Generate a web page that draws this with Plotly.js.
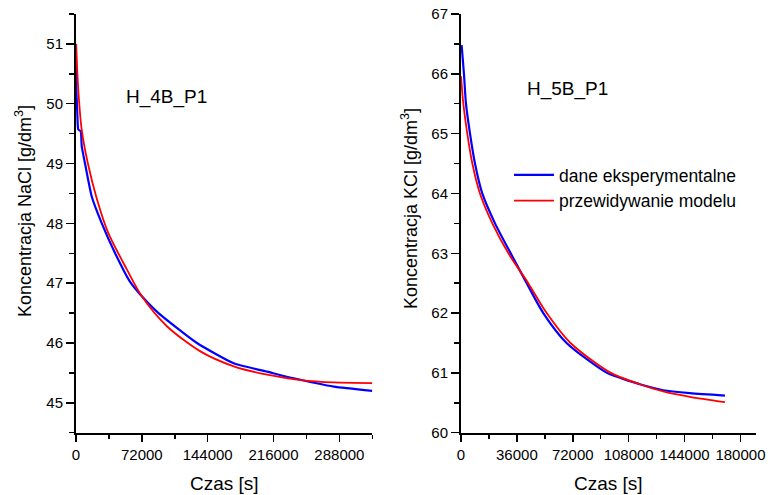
<!DOCTYPE html>
<html>
<head>
<meta charset="utf-8">
<script src="https://cdn.plot.ly/plotly-3.0.1.min.js"></script>
<style>html,body{margin:0;padding:0;background:#fff;}#chart{width:768px;height:495px;}</style>
</head>
<body>
<div id="chart"></div>
<script>
// Left panel: H_4B_P1 (NaCl)
const tNaClExp = [0, 330, 1430, 2520, 5150, 6250, 9870, 17200, 28200, 42800, 59200, 72000, 90200, 132300, 172500, 209100, 238000, 282000, 324000];
const cNaClExp = [51.0, 50.28, 49.84, 49.57, 49.54, 49.29, 49.0, 48.45, 48.0, 47.5, 47.02, 46.78, 46.5, 46.0, 45.66, 45.52, 45.41, 45.27, 45.20];
const tNaClMod = [0, 2500, 6200, 13000, 23000, 35000, 55600, 72000, 99400, 136000, 172500, 209000, 245600, 282000, 324000];
const cNaClMod = [51.0, 50.23, 49.57, 49.0, 48.4, 47.85, 47.23, 46.78, 46.28, 45.86, 45.61, 45.47, 45.38, 45.34, 45.33];

// Right panel: H_5B_P1 (KCl)
const tKClExp = [400, 1900, 3200, 5800, 9000, 13700, 21900, 33000, 42300, 53000, 68000, 94000, 104500, 115200, 130200, 147400, 170000];
const cKClExp = [66.48, 66.0, 65.5, 65.0, 64.5, 64.0, 63.5, 62.95, 62.5, 62.0, 61.5, 61.0, 60.9, 60.81, 60.71, 60.66, 60.62];
const tKClMod = [0, 1500, 4050, 7300, 12200, 20200, 30500, 43300, 55200, 70500, 96500, 115200, 130200, 147400, 170000];
const cKClMod = [65.96, 65.5, 65.0, 64.5, 64.0, 63.5, 63.0, 62.5, 62.0, 61.5, 61.0, 60.81, 60.69, 60.6, 60.51];

const seriesNames = ['dane eksperymentalne', 'przewidywanie modelu'];
const panelLabels = ['H_4B_P1', 'H_5B_P1'];
const yTitles = ['Koncentracja NaCl [g/dm<sup>3</sup>]', 'Koncentracja KCl [g/dm<sup>3</sup>]'];
const xTitle = 'Czas [s]';

const FONT = 'Liberation Sans, Arial, Helvetica, sans-serif';
const W = 768, H = 495;
const px = v => v / W;
const py = v => 1 - v / H;

const traces = [
  {x: tNaClExp, y: cNaClExp, xaxis: 'x', yaxis: 'y', mode: 'lines', name: seriesNames[0], showlegend: false,
   line: {color: '#0000ff', width: 2.2, shape: 'spline', smoothing: 0.5}},
  {x: tNaClMod, y: cNaClMod, xaxis: 'x', yaxis: 'y', mode: 'lines', name: seriesNames[1], showlegend: false,
   line: {color: '#ff0000', width: 1.8, shape: 'spline', smoothing: 0.8}},
  {x: tKClExp, y: cKClExp, xaxis: 'x2', yaxis: 'y2', mode: 'lines', name: seriesNames[0],
   line: {color: '#0000ff', width: 2.2, shape: 'spline', smoothing: 0.7}},
  {x: tKClMod, y: cKClMod, xaxis: 'x2', yaxis: 'y2', mode: 'lines', name: seriesNames[1],
   line: {color: '#ff0000', width: 1.8, shape: 'spline', smoothing: 0.8}}
];

function xAxis(domain, range, dtick, anchor) {
  return {domain: domain, range: range, anchor: anchor, tick0: 0, dtick: dtick, tickformat: 'd',
    showline: true, linecolor: '#000', linewidth: 2, ticks: 'outside', ticklen: 7, tickwidth: 1.5, tickcolor: '#000',
    minor: {dtick: dtick / 2, tick0: 0, ticks: 'outside', ticklen: 4, tickwidth: 1.5, tickcolor: '#000', showgrid: false},
    showgrid: false, zeroline: false, tickfont: {family: FONT, size: 15, color: '#000'}, fixedrange: true};
}
function yAxis(range, anchor) {
  return {domain: [62.3 / H, 481 / H], range: range, anchor: anchor, tick0: 0, dtick: 1,
    showline: true, linecolor: '#000', linewidth: 2, ticks: 'outside', ticklen: 8, tickwidth: 1.5, tickcolor: '#000',
    minor: {dtick: 0.5, ticks: 'outside', ticklen: 5, tickwidth: 1.5, tickcolor: '#000', showgrid: false},
    showgrid: false, zeroline: false, tickfont: {family: FONT, size: 15, color: '#000'}, fixedrange: true};
}

const layout = {
  width: W, height: H,
  margin: {l: 0, r: 0, t: 0, b: 0},
  paper_bgcolor: '#fff', plot_bgcolor: 'rgba(0,0,0,0)',
  font: {family: FONT, color: '#000'},
  xaxis: xAxis([px(76), px(372.3)], [0, 324000], 72000, 'y'),
  yaxis: yAxis([44.5, 51.5], 'x'),
  xaxis2: xAxis([px(461), px(756)], [0, 190000], 36000, 'y2'),
  yaxis2: yAxis([60, 67], 'x2'),
  showlegend: true,
  legend: {x: px(509), y: py(157), xanchor: 'left', yanchor: 'top', bgcolor: 'rgba(0,0,0,0)',
    borderwidth: 0, font: {family: FONT, size: 17.5, color: '#000'}, itemwidth: 40, tracegroupgap: 0},
  annotations: [
    {text: panelLabels[0], xref: 'paper', yref: 'paper', x: px(166.5), y: py(97), xanchor: 'center', yanchor: 'middle',
     showarrow: false, font: {family: FONT, size: 19, color: '#000'}},
    {text: panelLabels[1], xref: 'paper', yref: 'paper', x: px(567.5), y: py(89), xanchor: 'center', yanchor: 'middle',
     showarrow: false, font: {family: FONT, size: 19, color: '#000'}},
    {text: xTitle, xref: 'paper', yref: 'paper', x: px(224), y: py(483), xanchor: 'center', yanchor: 'middle',
     showarrow: false, font: {family: FONT, size: 19, color: '#000'}},
    {text: xTitle, xref: 'paper', yref: 'paper', x: px(608.5), y: py(483), xanchor: 'center', yanchor: 'middle',
     showarrow: false, font: {family: FONT, size: 19, color: '#000'}},
    {text: yTitles[0], xref: 'paper', yref: 'paper', x: px(23), y: py(211), xanchor: 'center', yanchor: 'middle',
     textangle: -90, showarrow: false, font: {family: FONT, size: 18, color: '#000'}},
    {text: yTitles[1], xref: 'paper', yref: 'paper', x: px(409), y: py(209), xanchor: 'center', yanchor: 'middle',
     textangle: -90, showarrow: false, font: {family: FONT, size: 18, color: '#000'}}
  ]
};

Plotly.newPlot('chart', traces, layout, {staticPlot: true, displayModeBar: false});
</script>
</body>
</html>
